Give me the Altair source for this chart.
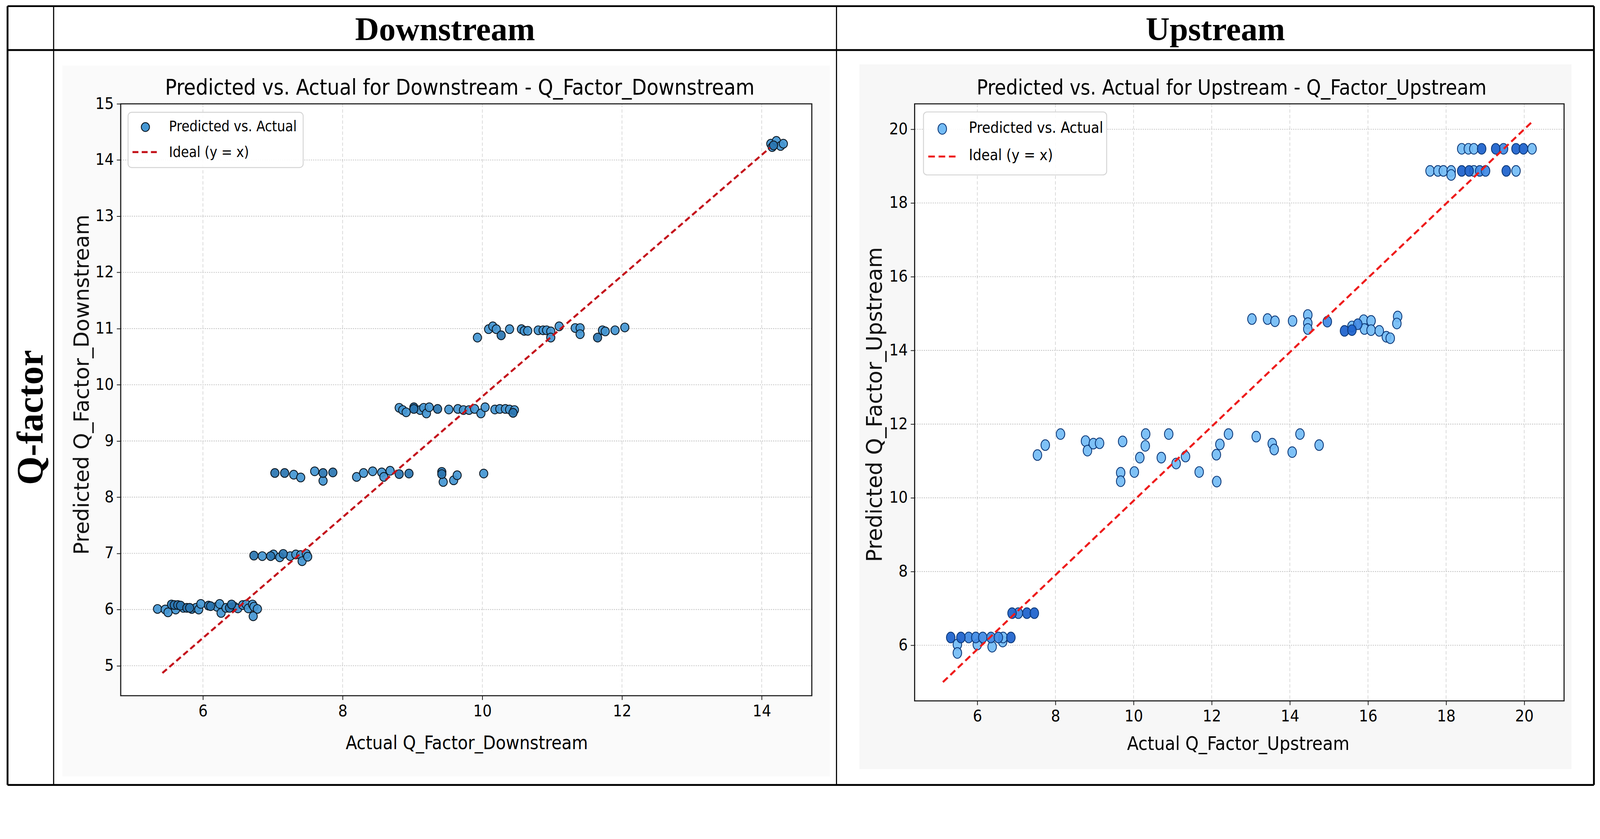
import altair as alt
import pandas as pd

# ---------------- data ----------------
# Downstream panel
ds_actual = [5.35, 5.46, 5.50, 5.55, 5.59, 5.61, 5.64, 5.68, 5.72, 5.77, 5.81, 5.84, 5.90, 5.94, 5.97, 6.08,
             6.11, 6.20, 6.24, 6.26, 6.33, 6.38, 6.41, 6.45, 6.50, 6.57, 6.62, 6.65, 6.71, 6.73, 6.78, 6.72,
             6.73, 6.85, 6.97, 7.01, 7.15, 7.10, 7.25, 7.33, 7.40, 7.42, 7.48, 7.50,
             7.03, 7.17, 7.30, 7.40, 7.60, 7.72, 7.72, 7.86, 8.20, 8.30, 8.43, 8.56, 8.59, 8.68, 8.81, 8.95,
             9.42, 9.42, 9.44, 9.59, 9.64, 10.02,
             8.81, 8.86, 8.91, 9.02, 9.02, 9.11, 9.16, 9.20, 9.24, 9.36, 9.52, 9.65, 9.73, 9.81, 9.89, 9.98,
             10.04, 10.18, 10.25, 10.33, 10.39, 10.44, 10.46,
             9.93, 10.09, 10.15, 10.20, 10.27, 10.39, 10.56, 10.60, 10.65, 10.80, 10.87, 10.92, 10.98, 10.98,
             11.10, 11.33, 11.40, 11.40, 11.65, 11.72, 11.76, 11.90, 12.04,
             14.13, 14.15, 14.17, 14.21, 14.27, 14.31]
ds_pred = [6.01, 6.00, 5.95, 6.09, 6.08, 6.00, 6.08, 6.07, 6.03, 6.03, 6.03, 6.01, 6.03, 6.00, 6.10, 6.07,
           6.06, 6.05, 6.10, 5.94, 6.03, 6.03, 6.09, 6.05, 6.02, 6.08, 6.09, 6.02, 6.09, 6.05, 6.01, 5.88,
           6.96, 6.95, 6.95, 6.98, 6.99, 6.93, 6.95, 6.98, 6.97, 6.86, 6.99, 6.94,
           8.43, 8.43, 8.40, 8.35, 8.46, 8.43, 8.29, 8.44, 8.36, 8.43, 8.46, 8.44, 8.36, 8.47, 8.41, 8.42,
           8.45, 8.41, 8.27, 8.30, 8.39, 8.42,
           9.59, 9.55, 9.51, 9.60, 9.57, 9.55, 9.59, 9.49, 9.60, 9.57, 9.56, 9.57, 9.55, 9.55, 9.57, 9.49,
           9.60, 9.56, 9.57, 9.57, 9.56, 9.50, 9.55,
           10.84, 10.99, 11.04, 10.99, 10.88, 10.99, 10.99, 10.96, 10.96, 10.97, 10.97, 10.97, 10.95, 10.84,
           11.04, 11.01, 11.01, 10.90, 10.84, 10.97, 10.95, 10.97, 11.02,
           14.29, 14.23, 14.26, 14.34, 14.25, 14.29]
# how many markers sit on top of each other at that spot (darker where stacked)
ds_stack = [1, 1, 1, 2, 2, 1, 2, 2, 1, 2, 2, 1, 1, 1, 1, 2,
            2, 1, 1, 1, 1, 2, 2, 1, 1, 1, 1, 1, 1, 1, 1, 1,
            2, 1, 2, 1, 2, 1, 1, 1, 1, 1, 1, 1,
            2, 2, 1, 1, 1, 2, 1, 2, 1, 1, 1, 1, 1, 1, 2, 2,
            2, 2, 1, 1, 1, 1,
            1, 1, 1, 2, 2, 1, 1, 1, 1, 2, 1, 1, 1, 1, 1, 1,
            1, 1, 1, 1, 1, 2, 1,
            1, 1, 1, 1, 2, 1, 1, 1, 1, 1, 1, 1, 1, 1,
            1, 1, 1, 1, 2, 1, 1, 1, 1,
            1, 1, 2, 1, 1, 1]
ds_ideal_x = [5.42, 14.12]
ds_ideal_y = [4.87, 14.22]
ds_xticks = [6, 8, 10, 12, 14]
ds_yticks = [5, 6, 7, 8, 9, 10, 11, 12, 13, 14, 15]

# Upstream panel
us_actual = [5.49, 5.49, 6.00, 6.38, 6.65,
             5.32, 5.58, 5.78, 5.96, 6.14, 6.35, 6.54, 6.66, 6.86,
             6.89, 7.05, 7.27, 7.46,
             7.54, 7.74, 8.13, 8.77, 8.82, 8.97, 9.13, 9.72, 10.31, 10.30, 10.16, 9.67, 9.67, 10.02, 10.71,
             10.90, 11.09, 11.33, 11.68, 12.12, 12.13, 12.21, 12.43, 13.14, 13.55, 13.60, 14.06, 14.26, 14.75,
             13.03, 13.43, 13.62, 14.07, 14.46, 14.46, 14.46, 14.96, 15.40, 15.59, 15.59, 15.74, 15.89, 15.91,
             16.08, 16.08, 16.29, 16.47, 16.57, 16.76, 16.74,
             17.59, 17.79, 17.93, 18.13, 18.13, 18.40, 18.59, 18.71, 18.86, 19.01, 19.54, 19.79,
             18.40, 18.57, 18.71, 18.91, 19.27, 19.47, 19.79, 19.98, 20.20]
us_pred = [6.02, 5.79, 6.02, 5.96, 6.10,
           6.21, 6.21, 6.21, 6.21, 6.21, 6.21, 6.21, 6.21, 6.21,
           6.87, 6.87, 6.87, 6.87,
           11.16, 11.43, 11.73, 11.54, 11.28, 11.47, 11.48, 11.53, 11.73, 11.41, 11.09, 10.68, 10.45, 10.70, 11.09,
           11.73, 10.93, 11.12, 10.70, 11.17, 10.44, 11.45, 11.73, 11.66, 11.47, 11.31, 11.24, 11.73, 11.43,
           14.85, 14.85, 14.79, 14.80, 14.96, 14.74, 14.58, 14.78, 14.53, 14.55, 14.65, 14.71, 14.82, 14.58,
           14.80, 14.55, 14.53, 14.37, 14.33, 14.92, 14.73,
           18.87, 18.87, 18.87, 18.87, 18.76, 18.87, 18.87, 18.87, 18.87, 18.87, 18.87, 18.87,
           19.47, 19.47, 19.47, 19.47, 19.47, 19.47, 19.47, 19.47, 19.47]
us_stack = [1, 1, 1, 1, 1,
            3, 3, 2, 2, 2, 2, 2, 1, 3,
            3, 2, 3, 3,
            1, 1, 1, 1, 1, 1, 1, 1, 1, 1, 1, 1, 1, 1, 1,
            1, 1, 1, 1, 1, 1, 1, 1, 1, 1, 1, 1, 1, 1,
            1, 1, 1, 1, 1, 1, 1, 2, 3, 3, 1, 2, 1, 1,
            1, 1, 1, 1, 1, 1, 1,
            1, 1, 1, 1, 1, 3, 3, 1, 2, 2, 3, 1,
            1, 1, 1, 3, 3, 2, 3, 3, 1]
us_ideal_x = [5.12, 20.2]
us_ideal_y = [5.0, 20.2]
us_xticks = [6, 8, 10, 12, 14, 16, 18, 20]
us_yticks = [6, 8, 10, 12, 14, 16, 18, 20]

# texts
header_left = "Downstream"
header_right = "Upstream"
row_label = "Q-factor"
legend_points = "Predicted vs. Actual"
legend_line = "Ideal (y = x)"

# ---------------- styling ----------------
NARROW = "'Liberation Sans Narrow', 'DejaVu Sans Condensed', 'Arial Narrow', 'Roboto Condensed', sans-serif"
WIDE = "'DejaVu Sans', Verdana, sans-serif"
SERIF = "'Book Antiqua', 'Palatino Linotype', 'Liberation Serif', 'DejaVu Serif', serif"
ONE = alt.Data(values=[{"k": 0}])


def ellipse(ratio):
    k = 0.5523
    a = ratio
    ka = k * a
    return (f"M0,-1C{ka:.4f},-1 {a:.4f},-{k} {a:.4f},0C{a:.4f},{k} {ka:.4f},1 0,1"
            f"C-{ka:.4f},1 -{a:.4f},{k} -{a:.4f},0C-{a:.4f},-{k} -{ka:.4f},-1 0,-1Z")


def vrect(x1, x2, y1, y2, **kw):
    return alt.Chart(ONE).mark_rect(**kw).encode(
        x=alt.value(x1), x2=alt.value(x2), y=alt.value(y1), y2=alt.value(y2))


def vtext(txt, x, y, **kw):
    return alt.Chart(ONE).mark_text(**kw).encode(
        x=alt.value(x), y=alt.value(y), text=alt.value(txt))


def vrule(x1, x2, y1, y2, **kw):
    return alt.Chart(ONE).mark_rule(**kw).encode(
        x=alt.value(x1), x2=alt.value(x2), y=alt.value(y1), y2=alt.value(y2))


def panel(p):
    W, H = p["W"], p["H"]
    xs = alt.Scale(domain=p["xdom"], nice=False, zero=False)
    ys = alt.Scale(domain=p["ydom"], nice=False, zero=False)
    xaxis = alt.Axis(values=p["xticks"], format="d", grid=False, domain=False, ticks=True,
                     tickSize=11, tickWidth=2, tickColor="#111", labelFont=NARROW,
                     labelFontSize=p["tick_fs"], labelColor="#000", labelPadding=9,
                     title="", zindex=1)
    yaxis = alt.Axis(values=p["yticks"], format="d", grid=False, domain=False, ticks=True,
                     tickSize=11, tickWidth=2, tickColor="#111", labelFont=NARROW,
                     labelFontSize=p["tick_fs"], labelColor="#000", labelPadding=8,
                     title="", zindex=1)

    pts = pd.DataFrame({"actual": p["actual"], "pred": p["pred"], "stack": p["stack"]})
    pts = pts.sort_values("stack", kind="stable")
    ideal = pd.DataFrame({"actual": p["ideal_x"], "pred": p["ideal_y"]})

    bx1, by1, bx2, by2 = p["bg"]
    layers = [
        vrect(bx1, bx2, by1, by2, fill=p["bg_color"]),
        vrect(0, W, 0, H, fill="#ffffff"),
        alt.Chart(pd.DataFrame({"t": p["xticks"]})).mark_rule(
            color="#cfcfcf", strokeWidth=1.6, strokeDash=[9, 6]).encode(
            x=alt.X("t:Q", scale=xs, axis=xaxis)),
        alt.Chart(pd.DataFrame({"t": p["yticks"]})).mark_rule(
            color="#bdbdbd", strokeWidth=2, strokeDash=[3, 3]).encode(
            y=alt.Y("t:Q", scale=ys, axis=yaxis)),
        alt.Chart(pts).mark_point(filled=True, shape=ellipse(p["ratio"]), size=p["size"],
                                  stroke=p["edge"], strokeWidth=2.3, fillOpacity=0.93,
                                  strokeOpacity=1).encode(
            x=alt.X("actual:Q", scale=xs, axis=xaxis),
            y=alt.Y("pred:Q", scale=ys, axis=yaxis),
            fill=alt.Fill("stack:O", scale=alt.Scale(domain=p["stack_dom"], range=p["fills"]),
                          legend=None)),
        alt.Chart(ideal).mark_line(color=p["red"], strokeWidth=5.5, strokeDash=p["dash"]).encode(
            x=alt.X("actual:Q", scale=xs, axis=xaxis),
            y=alt.Y("pred:Q", scale=ys, axis=yaxis)),
        vrect(0, W, 0, H, fillOpacity=0, stroke="#1a1a1a", strokeWidth=3),
    ]
    # legend
    lx1, ly1, lx2, ly2 = p["leg_box"]
    layers += [
        vrect(lx1, lx2, ly1, ly2, fill="#ffffff", fillOpacity=0.9, stroke="#d4d4d4",
              strokeWidth=2.5, cornerRadius=10),
        alt.Chart(ONE).mark_point(filled=True, shape=ellipse(p["ratio"]), size=p["size"],
                                  fill=p["fills"][0], stroke=p["edge"], strokeWidth=2.3,
                                  fillOpacity=1).encode(
            x=alt.value(p["leg_marker"][0]), y=alt.value(p["leg_marker"][1])),
        vrule(p["leg_line"][0], p["leg_line"][1], p["leg_line"][2], p["leg_line"][2],
              color=p["red"], strokeWidth=5.5, strokeDash=p["dash"]),
        vtext(legend_points, p["leg_text_x"], p["leg_text_y"][0], font=NARROW,
              fontSize=p["leg_fs"], align="left", baseline="middle", color="#000"),
        vtext(legend_line, p["leg_text_x"], p["leg_text_y"][1], font=NARROW,
              fontSize=p["leg_fs"], align="left", baseline="middle", color="#000"),
    ]
    # titles
    layers += [
        vtext(p["title"], p["title_xy"][0], p["title_xy"][1], font=NARROW, fontSize=p["title_fs"],
              align="center", baseline="alphabetic", color="#000"),
        vtext(p["xtitle"], p["xtitle_xy"][0], p["xtitle_xy"][1], font=NARROW, fontSize=p["xtitle_fs"],
              align="center", baseline="middle", color="#000"),
        vtext(p["ytitle"], p["ytitle_xy"][0], p["ytitle_xy"][1], font=WIDE, fontSize=p["ytitle_fs"],
              align="center", baseline="middle", angle=270, color="#111"),
    ]
    layers += p.get("extra", [])
    return alt.layer(*layers).properties(width=W, height=H)


# page geometry (pixels), plot areas: left at (326,280), right at (2480,280)
W1, H1 = 1875, 1606
W2, H2 = 1762, 1620
SP = 2480 - (326 + W1)
OX2, OY2 = 2480, 280

# table drawn in right panel's coordinates
T_L, T_R, T_T, T_B = 19 - OX2, 4323 - OX2, 15 - OY2, 2128 - OY2
HDR = 134 - OY2
COL1 = 144 - OX2
COL2 = 2268 - OX2
LW = 5
table = [
    vrule(T_L, T_R, T_T, T_T, color="#000", strokeWidth=LW),
    vrule(T_L, T_R, T_B, T_B, color="#000", strokeWidth=LW),
    vrule(T_L, T_R, HDR, HDR, color="#000", strokeWidth=LW),
    vrule(T_L, T_L, T_T, T_B, color="#000", strokeWidth=LW),
    vrule(T_R, T_R, T_T, T_B, color="#000", strokeWidth=LW),
    vrule(COL1, COL1, T_T, T_B, color="#000", strokeWidth=3),
    vrule(COL2, COL2, T_T, T_B, color="#000", strokeWidth=3),
    vtext(header_left, 1206 - OX2, 107 - OY2, font=SERIF, fontSize=90, fontWeight="bold",
          align="center", baseline="alphabetic", color="#000"),
    vtext(header_right, 3296 - OX2, 107 - OY2, font=SERIF, fontSize=90, fontWeight="bold",
          align="center", baseline="alphabetic", color="#000"),
    vtext(row_label, 84 - OX2, 1131 - OY2, font=SERIF, fontSize=100, fontWeight="bold",
          align="center", baseline="middle", angle=270, color="#000"),
]

left = panel(dict(
    W=W1, H=H1, xdom=[4.823, 14.717], ydom=[4.466, 15.0],
    xticks=ds_xticks, yticks=ds_yticks, tick_fs=44,
    actual=ds_actual, pred=ds_pred, stack=ds_stack, ideal_x=ds_ideal_x, ideal_y=ds_ideal_y,
    stack_dom=[1, 2], fills=["#4597d3", "#2b76b2"], edge="#0d1a26", ratio=0.93, size=576,
    red="#c4141c", dash=[16, 9],
    bg=(168 - 326, 176 - 280, 2250 - 326, 2105 - 280), bg_color="#fafafa",
    leg_box=(20, 23, 495, 173), leg_marker=(67, 63), leg_line=(32, 105, 131),
    leg_text_x=131, leg_text_y=(62, 132), leg_fs=39,
    title="Predicted vs. Actual for Downstream - Q_Factor_Downstream", title_xy=(920, -25), title_fs=58.5,
    xtitle="Actual Q_Factor_Downstream", xtitle_xy=(939, 1736), xtitle_fs=50,
    ytitle="Predicted Q_Factor_Downstream", ytitle_xy=(-104, 762), ytitle_fs=57,
))

right = panel(dict(
    W=W2, H=H2, xdom=[4.396, 21.02], ydom=[4.49, 20.69],
    xticks=us_xticks, yticks=us_yticks, tick_fs=44,
    actual=us_actual, pred=us_pred, stack=us_stack, ideal_x=us_ideal_x, ideal_y=us_ideal_y,
    stack_dom=[1, 2, 3], fills=["#74bcf5", "#3f8ae4", "#1d62cc"], edge="#0e3a7a", ratio=0.8, size=841,
    red="#ee1c1c", dash=[18, 10],
    bg=(2330 - OX2, 173 - OY2, 4262 - OX2, 2085 - OY2), bg_color="#f7f7f7",
    leg_box=(24, 22, 521, 193), leg_marker=(75, 68), leg_line=(37, 113, 143),
    leg_text_x=147, leg_text_y=(67, 141), leg_fs=41,
    title="Predicted vs. Actual for Upstream - Q_Factor_Upstream", title_xy=(860, -25), title_fs=56,
    xtitle="Actual Q_Factor_Upstream", xtitle_xy=(878, 1738), xtitle_fs=51,
    ytitle="Predicted Q_Factor_Upstream", ytitle_xy=(-107, 816), ytitle_fs=58,
    extra=table,
))

chart = alt.hconcat(left, right, spacing=SP, bounds="flush").resolve_scale(
    fill="independent", x="independent", y="independent"
).properties(
    padding={"left": 9, "top": -55, "right": 5, "bottom": -50},
    background="#ffffff",
).configure_view(strokeWidth=0)

chart.save("out.html", embed_options={"renderer": "svg", "actions": False})
